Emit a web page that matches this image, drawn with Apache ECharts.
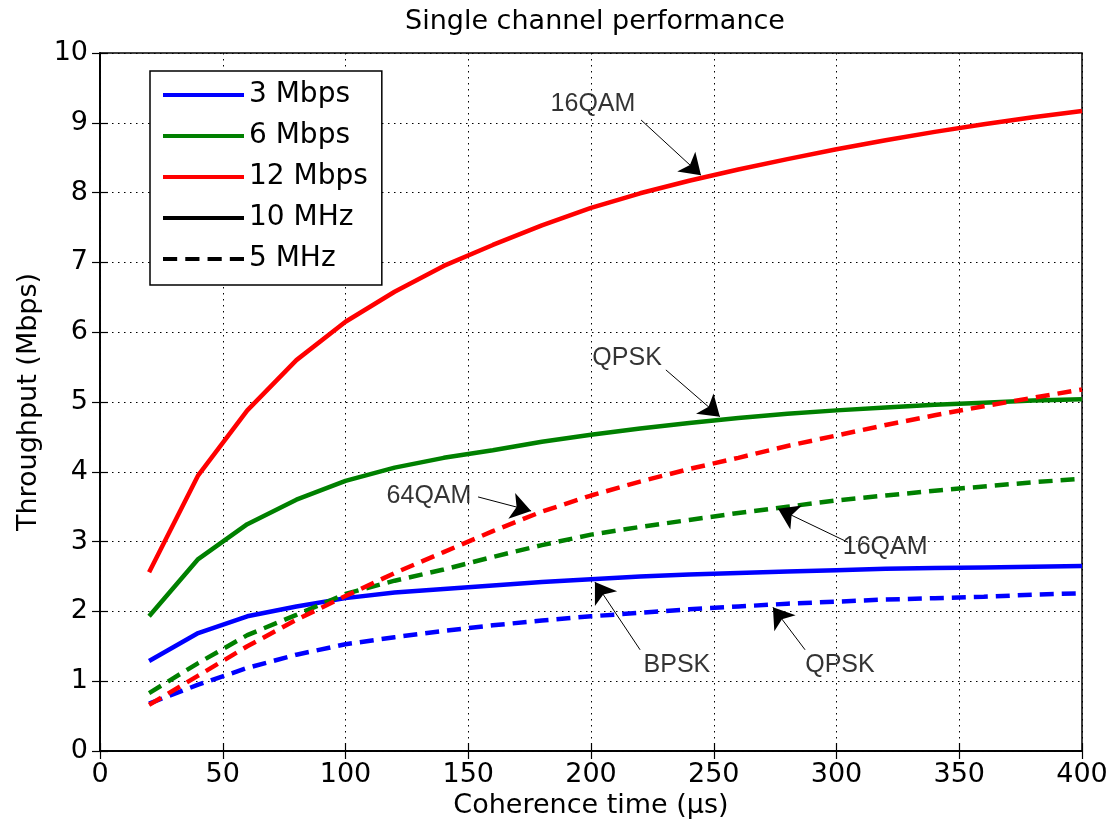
<!DOCTYPE html>
<html><head><meta charset="utf-8">
<script src="https://cdn.jsdelivr.net/npm/echarts@6/dist/echarts.min.js"></script>
<style>html,body{margin:0;padding:0;background:#fff}#c{width:1120px;height:836px}</style>
</head><body><div id="c"></div>
<script>
// Coherence time (µs)
const xValues = [20,40,60,80,100,120,140,160,180,200,220,240,260,280,300,320,340,360,380,400];
// 10 MHz (solid)
const blue10  = [1.29,1.69,1.93,2.07,2.19,2.27,2.32,2.37,2.42,2.46,2.50,2.53,2.55,2.57,2.59,2.61,2.62,2.63,2.64,2.65];
const green10 = [1.93,2.75,3.25,3.60,3.87,4.06,4.20,4.31,4.43,4.53,4.62,4.70,4.77,4.83,4.88,4.92,4.96,4.99,5.02,5.04];
const red10   = [2.56,3.95,4.88,5.60,6.15,6.58,6.95,7.25,7.53,7.78,7.99,8.17,8.33,8.48,8.62,8.75,8.87,8.98,9.08,9.17];
// 5 MHz (dashed)
const blue5   = [0.68,0.95,1.19,1.38,1.53,1.63,1.72,1.80,1.87,1.93,1.98,2.03,2.07,2.11,2.14,2.17,2.19,2.21,2.24,2.26];
const green5  = [0.83,1.26,1.66,1.95,2.25,2.44,2.60,2.78,2.95,3.10,3.21,3.31,3.41,3.50,3.59,3.66,3.73,3.79,3.85,3.90];
const red5    = [0.66,1.08,1.50,1.88,2.22,2.55,2.85,3.15,3.43,3.66,3.86,4.04,4.20,4.37,4.52,4.67,4.81,4.94,5.06,5.18];

const legendNames = ['3 Mbps','6 Mbps','12 Mbps','10 MHz','5 MHz'];

// annotations: label text, label anchor [x,y], arrow tail [x,y], arrow tip [x,y] (data units)
const annoText = ['16QAM','QPSK','64QAM','16QAM','BPSK','QPSK'];
const annoLabel = [[200.8,9.27],[214.7,5.63],[134,3.65],[319.8,2.92],[235,1.23],[301.4,1.23]];
const annoTail  = [[220.4,9.04],[230.5,5.46],[154,3.64],[304.7,2.99],[220,1.45],[287.2,1.45]];
const annoTip   = [[244.8,8.25],[252.5,4.79],[175.6,3.44],[276.2,3.47],[201.6,2.42],[274.1,2.06]];

const pair = (ys) => xValues.map((x,i)=>[x,ys[i]]);
const BLUE='#0000ff', GREEN='#008000', RED='#ff0000';
const DASH=[14,8];
const font='DejaVu Sans';
const SOLID_ICON='path://M0,0h80v4h-80z';
const DASH_ICON='path://M0,0h14v4h-14zM22,0h14v4h-14zM44,0h14v4h-14zM66,0h14v4h-14z';

function lineSeries(name, ys, color, dashed){
  return {name, type:'line', data:pair(ys), showSymbol:false, symbol:'none', smooth:false,
    lineStyle:{color, width:4.5, type: dashed?DASH:'solid'}, itemStyle:{color},
    emphasis:{disabled:true}, z: dashed?3:2, animation:false};
}

const chart = echarts.init(document.getElementById('c'), null, {renderer:'canvas'});
const axisCommon = {
  axisLine:{show:true, lineStyle:{color:'#000', width:1.5}},
  axisTick:{show:true, inside:true, length:8, lineStyle:{color:'#000', width:1.2}},
};
chart.setOption({
  backgroundColor:'#fff',
  animation:false,
  title:{text:'Single channel performance', left:590, textAlign:'center', top:3,
    textStyle:{fontFamily:font, fontSize:27, fontWeight:'normal', color:'#000'}},
  grid:{left:100, right:38, top:53, bottom:85, show:true, borderColor:'#000', borderWidth:1.5, containLabel:false},
  legend:{data:legendNames.map((n,i)=>({name:n, icon: i===4?DASH_ICON:SOLID_ICON})),
    orient:'vertical', left:150, top:71, itemWidth:81, itemHeight:5, itemGap:13,
    padding:[10,14,12,13], backgroundColor:'#fff', borderColor:'#000', borderWidth:1.5, borderRadius:0,
    textStyle:{fontFamily:font, fontSize:28, color:'#000', lineHeight:28}, selectedMode:false},
  xAxis:[
    Object.assign({type:'value', min:0, max:400, interval:50, position:'bottom',
      name:'Coherence time (μs)', nameLocation:'middle', nameGap:40,
      nameTextStyle:{fontFamily:font, fontSize:27, color:'#000'},
      axisLabel:{fontFamily:font, fontSize:27, color:'#000', margin:10},
      splitLine:{show:true, lineStyle:{color:'#000', width:1, type:[1.5,4.5]}}}, axisCommon),
    Object.assign({type:'value', min:0, max:400, interval:50, position:'top',
      axisLabel:{show:false}, splitLine:{show:false}}, axisCommon)
  ],
  yAxis:[
    Object.assign({type:'value', min:0, max:10, interval:1, position:'left',
      name:'Throughput (Mbps)', nameLocation:'middle', nameGap:56, nameRotate:90,
      nameTextStyle:{fontFamily:font, fontSize:27, color:'#000'},
      axisLabel:{fontFamily:font, fontSize:27, color:'#000', margin:12},
      splitLine:{show:true, lineStyle:{color:'#000', width:1, type:[1.5,4.5]}}}, axisCommon),
    Object.assign({type:'value', min:0, max:10, interval:1, position:'right',
      axisLabel:{show:false}, splitLine:{show:false}}, axisCommon)
  ],
  series:[
    lineSeries('3 Mbps', blue10, BLUE, false),
    lineSeries('6 Mbps', green10, GREEN, false),
    lineSeries('12 Mbps', red10, RED, false),
    lineSeries('3 Mbps 5 MHz', blue5, BLUE, true),
    lineSeries('6 Mbps 5 MHz', green5, GREEN, true),
    lineSeries('12 Mbps 5 MHz', red5, RED, true),
    {name:'10 MHz', type:'line', data:[], symbol:'none', lineStyle:{color:'#000', width:4, type:'solid'}, itemStyle:{color:'#000'}},
    {name:'5 MHz', type:'line', data:[], symbol:'none', lineStyle:{color:'#000', width:4, type:DASH}, itemStyle:{color:'#000'}},
    {name:'annotations', type:'scatter', symbolSize:0, z:10, silent:true,
      data: annoText.map((t,i)=>({value:annoLabel[i], name:t})),
      label:{show:true, position:'inside', formatter:(p)=>p.name,
        fontFamily:'Liberation Sans', fontSize:25, color:'#000', textBorderWidth:0},
      markLine:{silent:true, symbol:['none','arrow'], symbolSize:20,
        lineStyle:{color:'#000', width:1, type:'solid'}, label:{show:false},
        emphasis:{disabled:true}, animation:false,
        data: annoTail.map((t,i)=>[{coord:t},{coord:annoTip[i]}])}
    }
  ]
});
</script></body></html>
